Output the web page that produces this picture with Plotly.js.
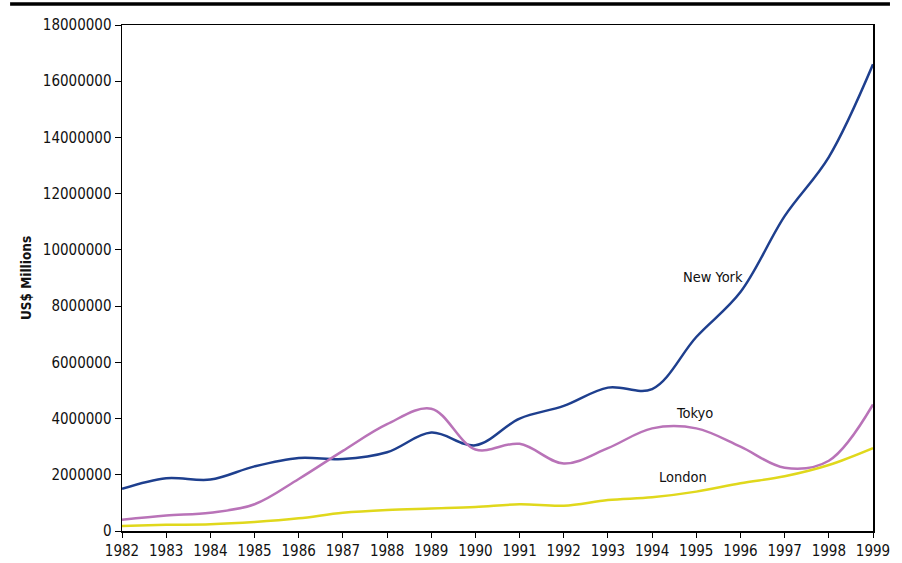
<!DOCTYPE html>
<html><head><meta charset="utf-8">
<script src="https://cdn.plot.ly/plotly-3.0.1.min.js"></script>
<style>html,body{margin:0;padding:0;background:#fff;}#chart{width:902px;height:563px;}</style>
</head><body><div id="chart"></div>
<script>
const years = [1982,1983,1984,1985,1986,1987,1988,1989,1990,1991,1992,1993,1994,1995,1996,1997,1998,1999];
const newYork = [1500000,1880000,1830000,2300000,2600000,2560000,2800000,3500000,3050000,4000000,4450000,5100000,5050000,6900000,8500000,11200000,13300000,16600000];
const tokyo = [400000,550000,650000,950000,1850000,2850000,3800000,4350000,2900000,3100000,2400000,2950000,3650000,3650000,3000000,2250000,2500000,4500000];
const london = [180000,220000,240000,320000,450000,650000,750000,800000,850000,950000,900000,1100000,1200000,1400000,1700000,1950000,2350000,2950000];
const seriesNames = ["New York","Tokyo","London"];
const yTicks = [0,2000000,4000000,6000000,8000000,10000000,12000000,14000000,16000000,18000000];

const colors = ["#1e3f8e","#b973b8","#e0d81c"];
const data = [newYork,tokyo,london].map((v,i)=>({
  x: years, y: v, type:'scatter', mode:'lines', name: seriesNames[i],
  line:{color:colors[i], width:2.5, shape:'spline', smoothing:1}
}));
const font = {family:'"DejaVu Sans Condensed", "Liberation Sans Narrow", sans-serif', color:'#111'};
const layout = {
  width:902, height:563, margin:{l:122,r:29,t:25,b:32},
  paper_bgcolor:'#fff', plot_bgcolor:'#fff', showlegend:false,
  font: Object.assign({size:15}, font),
  xaxis:{range:[1982,1999], tickvals:years, ticktext:years.map(String), ticks:'outside', ticklen:5, tickcolor:'#000',
    showline:true, linecolor:'#000', linewidth:1.5, mirror:true, showgrid:false, zeroline:false,
    tickfont:Object.assign({size:15},font), fixedrange:true},
  yaxis:{range:[0,18000000], tickvals:yTicks, ticktext:yTicks.map(String), ticks:'outside', ticklen:6, tickcolor:'#000',
    showline:true, linecolor:'#000', linewidth:1.5, mirror:true, showgrid:false, zeroline:false,
    tickfont:Object.assign({size:15},font),
    title:{text:'<b>US$ Millions</b>', font:Object.assign({size:13.5},font), standoff:8}},
  annotations:[
    {x:1995.38,y:9040000,text:'New York',showarrow:false,font:Object.assign({size:14.5},font)},
    {x:1994.95,y:4200000,text:'Tokyo',showarrow:false,font:Object.assign({size:14.5},font)},
    {x:1994.7,y:1920000,text:'London',showarrow:false,font:Object.assign({size:14.5},font)}
  ],
  shapes:[{type:'line',xref:'paper',yref:'paper',x0:-0.149,x1:1.0226,y0:1.0415,y1:1.0415,line:{color:'#000',width:3.5}}]
};
Plotly.newPlot('chart', data, layout, {displayModeBar:false, staticPlot:true});
</script></body></html>
